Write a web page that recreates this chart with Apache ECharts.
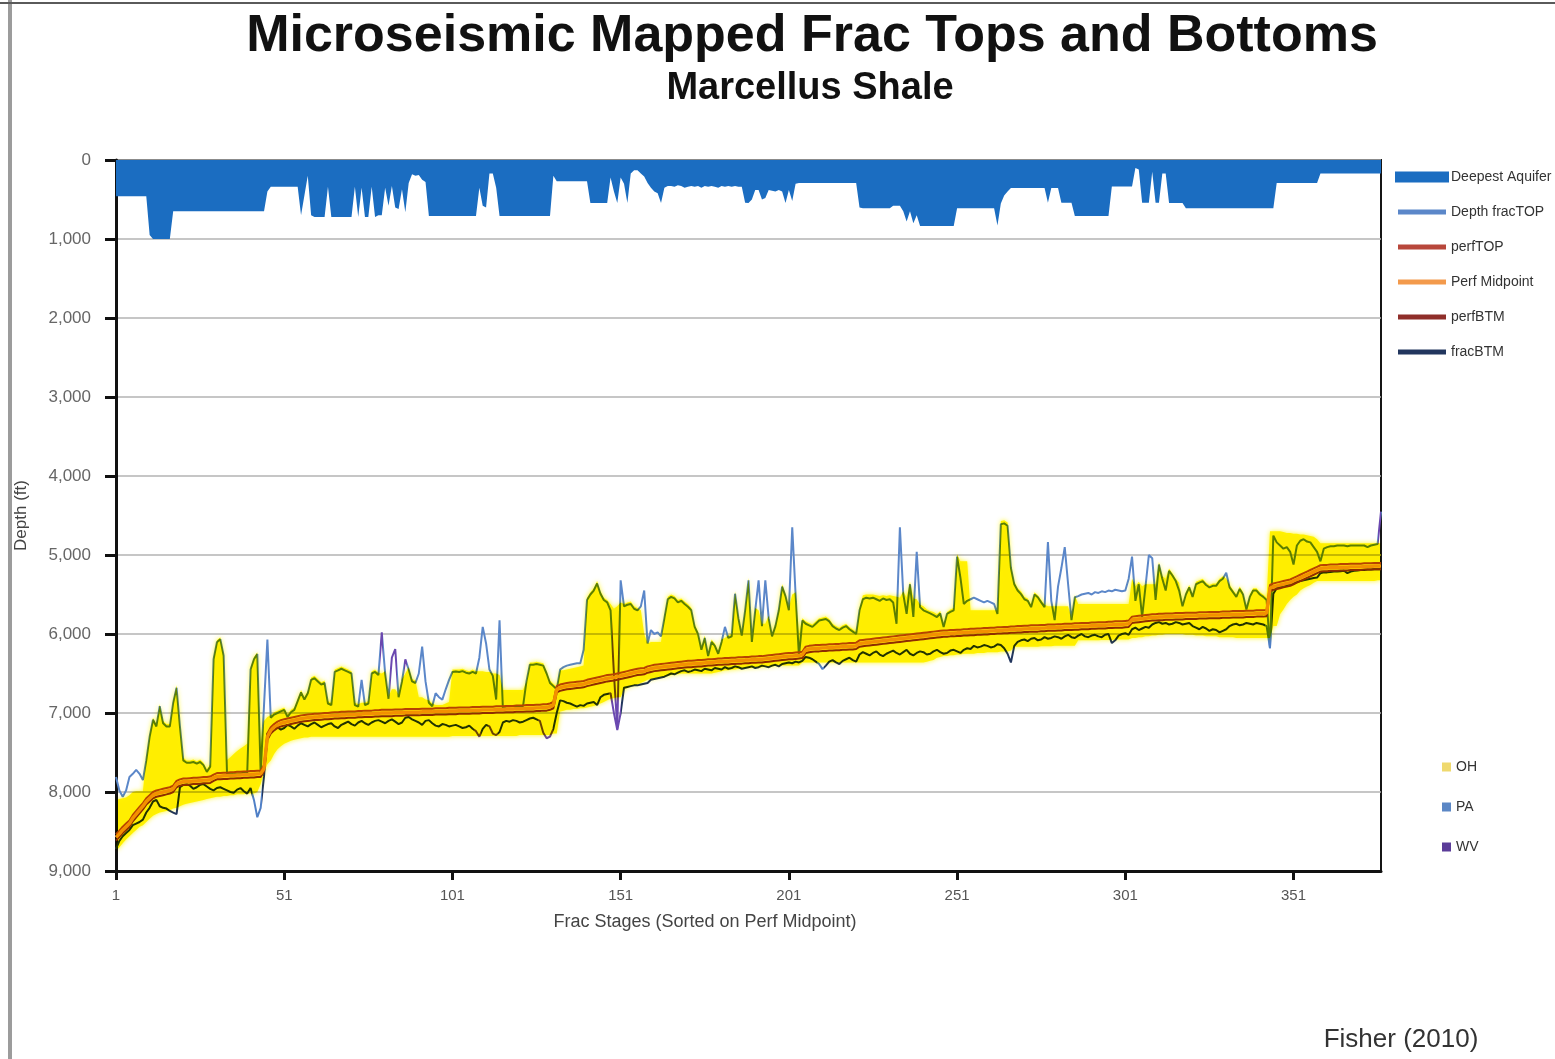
<!DOCTYPE html>
<html>
<head>
<meta charset="utf-8">
<title>Microseismic Mapped Frac Tops and Bottoms</title>
<script src="https://cdn.jsdelivr.net/npm/echarts@6/dist/echarts.min.js"></script>
<style>
  html, body { margin: 0; padding: 0; background: #ffffff; }
  #chart { width: 1555px; height: 1059px; }
</style>
</head>
<body>
<div id="chart"></div>
<script>
// Depth (ft) per frac stage, stages sorted on perf midpoint (377 stages)
const aquifer = [
  460,460,460,460,460,460,460,460,460,460,
  950,1000,1000,1000,1000,1000,1000,650,650,650,
  650,650,650,650,650,650,650,650,650,650,
  650,650,650,650,650,650,650,650,650,650,
  650,650,650,650,650,400,340,340,340,340,
  340,340,340,340,340,700,450,200,700,720,
  720,720,720,340,720,720,720,720,720,720,
  720,340,720,350,720,720,340,720,700,700,
  350,580,330,600,620,370,660,290,180,200,
  190,250,280,710,710,710,710,710,710,710,
  710,710,710,710,710,710,710,710,350,580,
  600,170,170,350,710,710,710,710,710,710,
  710,710,710,710,710,710,710,710,710,710,
  200,270,270,270,270,270,270,270,270,270,
  270,545,545,545,545,545,545,220,400,545,
  220,300,545,170,130,130,170,210,290,350,
  400,420,545,350,330,330,340,320,330,350,
  340,330,340,330,350,330,340,330,340,350,
  330,340,330,340,330,340,340,540,545,500,
  380,380,500,480,380,390,400,380,400,545,
  380,520,300,290,290,290,290,290,290,290,
  290,290,290,290,290,290,290,290,290,290,
  290,600,610,610,610,610,610,610,610,610,
  610,580,580,580,650,780,650,800,700,835,
  835,835,835,835,835,835,835,835,835,835,
  610,610,610,610,610,610,610,610,610,610,
  610,610,830,550,450,400,355,355,355,355,
  355,355,355,355,355,355,355,540,355,355,
  355,540,540,540,540,710,710,710,710,710,
  710,710,710,710,710,710,335,335,335,335,
  335,335,335,100,120,540,540,540,150,540,
  540,170,170,545,545,545,545,545,610,610,
  610,610,610,610,610,610,610,610,610,610,
  610,610,610,610,610,610,610,610,610,610,
  610,610,610,610,610,290,290,290,290,290,
  290,290,290,290,290,290,290,290,170,170,
  170,170,170,170,170,170,170,170,170,170,
  170,170,170,170,170,170,170
];

const fracTop = [
  7810,7980,8060,7980,7810,7770,7720,7770,7850,7600,
  7300,7085,7170,6915,7130,7170,7170,6870,6680,7170,
  7600,7630,7630,7620,7640,7620,7660,7745,7680,6320,
  6105,6065,6275,7765,7765,7775,7765,7765,7755,7765,
  6450,6320,6255,7760,6900,6070,7060,7020,7000,6980,
  6960,7050,6990,6960,6850,6740,6830,6750,6580,6560,
  6600,6640,6620,6880,6900,6480,6460,6440,6460,6480,
  6500,6900,6920,6580,6900,6880,6500,6480,6520,5980,
  6500,6820,6300,6190,6800,6600,6320,6450,6600,6620,
  6500,6160,6600,6870,6915,6750,6800,6830,6700,6580,
  6480,6475,6480,6470,6490,6500,6480,6500,6300,5910,
  6120,6450,6530,6830,5825,6950,6915,6915,6910,6920,
  6915,6910,6600,6390,6390,6380,6390,6400,6500,6620,
  6660,6700,6450,6420,6400,6390,6380,6370,6370,6200,
  5570,5500,5450,5360,5490,5570,5600,5700,6500,7200,
  5320,5650,5630,5620,5680,5700,5650,5450,6120,5950,
  6000,5980,6030,5800,5560,5530,5550,5600,5580,5620,
  5655,5700,5910,6000,6200,6050,6280,6100,6150,6250,
  6100,5910,6050,6030,5490,5800,6020,5700,5320,6100,
  5700,5320,5900,5320,5800,6030,5900,5700,5400,5520,
  5700,4650,5500,6280,5830,5870,5890,5910,5870,5830,
  5820,5810,5840,5900,5930,5950,5920,5900,5940,5970,
  6000,5700,5560,5540,5550,5540,5560,5580,5550,5570,
  5560,5600,5870,4650,5495,5745,5370,5785,4960,5660,
  5700,5720,5740,5760,5785,5740,5910,5745,5720,5700,
  5020,5290,5620,5580,5560,5540,5560,5580,5600,5580,
  5600,5620,5745,4610,4600,4630,5165,5370,5450,5495,
  5560,5580,5660,5500,5535,5600,5660,4835,5580,5825,
  5400,5165,4900,5370,5825,5535,5520,5500,5490,5480,
  5500,5470,5480,5460,5470,5450,5460,5440,5450,5460,
  5450,5300,5020,5580,5370,5785,5400,5000,5040,5570,
  5120,5300,5450,5200,5260,5330,5450,5650,5500,5410,
  5530,5370,5350,5330,5380,5410,5390,5390,5330,5300,
  5225,5410,5470,5530,5430,5500,5690,5530,5450,5450,
  5500,5530,5570,6180,4755,4840,4880,4920,4900,4960,
  5120,4880,4820,4800,4830,4840,4900,4960,5080,4920,
  4900,4890,4890,4880,4880,4880,4890,4880,4880,4880,
  4880,4880,4900,4880,4870,4860,4450
];

const perfTop = [
  8535,8490,8440,8400,8360,8290,8240,8190,8140,8080,
  8040,8000,7980,7970,7960,7950,7940,7920,7860,7840,
  7830,7830,7825,7820,7820,7815,7810,7810,7805,7780,
  7760,7760,7755,7755,7750,7750,7745,7745,7740,7740,
  7735,7735,7730,7730,7660,7260,7180,7140,7110,7090,
  7080,7070,7060,7050,7040,7030,7025,7020,7015,7010,
  7010,7005,7000,7000,6995,6990,6990,6985,6985,6980,
  6980,6980,6975,6975,6970,6970,6970,6965,6965,6960,
  6960,6960,6960,6955,6955,6955,6950,6950,6950,6950,
  6950,6945,6945,6945,6945,6940,6940,6940,6940,6935,
  6935,6935,6930,6930,6930,6930,6925,6925,6925,6920,
  6920,6920,6920,6915,6915,6915,6910,6910,6910,6905,
  6905,6905,6900,6900,6900,6895,6895,6890,6890,6880,
  6860,6660,6640,6630,6620,6615,6610,6605,6600,6595,
  6580,6570,6560,6550,6540,6530,6520,6515,6510,6500,
  6490,6480,6470,6460,6450,6440,6435,6430,6410,6400,
  6390,6385,6380,6375,6370,6365,6360,6355,6350,6345,
  6340,6340,6335,6330,6330,6325,6320,6320,6315,6310,
  6310,6305,6305,6300,6300,6295,6295,6290,6290,6285,
  6285,6280,6280,6275,6270,6265,6260,6255,6250,6245,
  6240,6240,6235,6230,6225,6160,6150,6145,6140,6140,
  6135,6135,6130,6130,6125,6125,6120,6120,6115,6115,
  6110,6080,6075,6070,6065,6060,6055,6050,6045,6040,
  6035,6030,6025,6020,6015,6010,6005,6000,5995,5990,
  5985,5980,5975,5970,5965,5960,5955,5955,5950,5950,
  5945,5945,5940,5940,5935,5935,5930,5930,5925,5925,
  5920,5920,5915,5915,5910,5910,5905,5905,5900,5900,
  5895,5895,5890,5890,5890,5885,5885,5880,5880,5880,
  5875,5875,5870,5870,5870,5865,5865,5860,5860,5860,
  5855,5855,5850,5850,5850,5845,5845,5840,5840,5840,
  5835,5830,5780,5775,5770,5765,5760,5755,5750,5750,
  5745,5745,5740,5740,5740,5735,5735,5735,5730,5730,
  5730,5730,5725,5725,5725,5720,5720,5720,5720,5715,
  5715,5715,5710,5710,5710,5710,5705,5705,5705,5700,
  5700,5700,5695,5380,5360,5350,5340,5330,5320,5310,
  5290,5270,5250,5230,5210,5190,5170,5150,5130,5125,
  5125,5120,5120,5120,5115,5115,5115,5110,5110,5110,
  5110,5105,5105,5105,5100,5100,5100
];

const perfMid = [
  8575,8530,8480,8440,8400,8330,8280,8230,8180,8120,
  8080,8040,8020,8010,8000,7990,7980,7960,7900,7880,
  7870,7870,7865,7860,7860,7855,7850,7850,7845,7820,
  7800,7800,7795,7795,7790,7790,7785,7785,7780,7780,
  7775,7775,7770,7770,7700,7300,7220,7180,7150,7130,
  7120,7110,7100,7090,7080,7070,7065,7060,7055,7050,
  7050,7045,7040,7040,7035,7030,7030,7025,7025,7020,
  7020,7020,7015,7015,7010,7010,7010,7005,7005,7000,
  7000,7000,7000,6995,6995,6995,6990,6990,6990,6990,
  6990,6985,6985,6985,6985,6980,6980,6980,6980,6975,
  6975,6975,6970,6970,6970,6970,6965,6965,6965,6960,
  6960,6960,6960,6955,6955,6955,6950,6950,6950,6945,
  6945,6945,6940,6940,6940,6935,6935,6930,6930,6920,
  6900,6700,6680,6670,6660,6655,6650,6645,6640,6635,
  6620,6610,6600,6590,6580,6570,6560,6555,6550,6540,
  6530,6520,6510,6500,6490,6480,6475,6470,6450,6440,
  6430,6425,6420,6415,6410,6405,6400,6395,6390,6385,
  6380,6380,6375,6370,6370,6365,6360,6360,6355,6350,
  6350,6345,6345,6340,6340,6335,6335,6330,6330,6325,
  6325,6320,6320,6315,6310,6305,6300,6295,6290,6285,
  6280,6280,6275,6270,6265,6200,6190,6185,6180,6180,
  6175,6175,6170,6170,6165,6165,6160,6160,6155,6155,
  6150,6120,6115,6110,6105,6100,6095,6090,6085,6080,
  6075,6070,6065,6060,6055,6050,6045,6040,6035,6030,
  6025,6020,6015,6010,6005,6000,5995,5995,5990,5990,
  5985,5985,5980,5980,5975,5975,5970,5970,5965,5965,
  5960,5960,5955,5955,5950,5950,5945,5945,5940,5940,
  5935,5935,5930,5930,5930,5925,5925,5920,5920,5920,
  5915,5915,5910,5910,5910,5905,5905,5900,5900,5900,
  5895,5895,5890,5890,5890,5885,5885,5880,5880,5880,
  5875,5870,5820,5815,5810,5805,5800,5795,5790,5790,
  5785,5785,5780,5780,5780,5775,5775,5775,5770,5770,
  5770,5770,5765,5765,5765,5760,5760,5760,5760,5755,
  5755,5755,5750,5750,5750,5750,5745,5745,5745,5740,
  5740,5740,5735,5420,5400,5390,5380,5370,5360,5350,
  5330,5310,5290,5270,5250,5230,5210,5190,5170,5165,
  5165,5160,5160,5160,5155,5155,5155,5150,5150,5150,
  5150,5145,5145,5145,5140,5140,5140
];

const perfBtm = [
  8615,8570,8520,8480,8440,8370,8320,8270,8220,8160,
  8120,8080,8060,8050,8040,8030,8020,8000,7940,7920,
  7910,7910,7905,7900,7900,7895,7890,7890,7885,7860,
  7840,7840,7835,7835,7830,7830,7825,7825,7820,7820,
  7815,7815,7810,7810,7740,7340,7260,7220,7190,7170,
  7160,7150,7140,7130,7120,7110,7105,7100,7095,7090,
  7090,7085,7080,7080,7075,7070,7070,7065,7065,7060,
  7060,7060,7055,7055,7050,7050,7050,7045,7045,7040,
  7040,7040,7040,7035,7035,7035,7030,7030,7030,7030,
  7030,7025,7025,7025,7025,7020,7020,7020,7020,7015,
  7015,7015,7010,7010,7010,7010,7005,7005,7005,7000,
  7000,7000,7000,6995,6995,6995,6990,6990,6990,6985,
  6985,6985,6980,6980,6980,6975,6975,6970,6970,6960,
  6940,6740,6720,6710,6700,6695,6690,6685,6680,6675,
  6660,6650,6640,6630,6620,6610,6600,6595,6590,6580,
  6570,6560,6550,6540,6530,6520,6515,6510,6490,6480,
  6470,6465,6460,6455,6450,6445,6440,6435,6430,6425,
  6420,6420,6415,6410,6410,6405,6400,6400,6395,6390,
  6390,6385,6385,6380,6380,6375,6375,6370,6370,6365,
  6365,6360,6360,6355,6350,6345,6340,6335,6330,6325,
  6320,6320,6315,6310,6305,6240,6230,6225,6220,6220,
  6215,6215,6210,6210,6205,6205,6200,6200,6195,6195,
  6190,6160,6155,6150,6145,6140,6135,6130,6125,6120,
  6115,6110,6105,6100,6095,6090,6085,6080,6075,6070,
  6065,6060,6055,6050,6045,6040,6035,6035,6030,6030,
  6025,6025,6020,6020,6015,6015,6010,6010,6005,6005,
  6000,6000,5995,5995,5990,5990,5985,5985,5980,5980,
  5975,5975,5970,5970,5970,5965,5965,5960,5960,5960,
  5955,5955,5950,5950,5950,5945,5945,5940,5940,5940,
  5935,5935,5930,5930,5930,5925,5925,5920,5920,5920,
  5915,5910,5860,5855,5850,5845,5840,5835,5830,5830,
  5825,5825,5820,5820,5820,5815,5815,5815,5810,5810,
  5810,5810,5805,5805,5805,5800,5800,5800,5800,5795,
  5795,5795,5790,5790,5790,5790,5785,5785,5785,5780,
  5780,5780,5775,5460,5440,5430,5420,5410,5400,5390,
  5370,5350,5330,5310,5290,5270,5250,5230,5210,5205,
  5205,5200,5200,5200,5195,5195,5195,5190,5190,5190,
  5190,5185,5185,5185,5180,5180,5180
];

const fracBtm = [
  8720,8620,8560,8520,8480,8420,8400,8380,8350,8260,
  8200,8120,8100,8180,8200,8210,8240,8260,8280,7940,
  7910,7900,7920,7960,7940,7910,7900,7930,7960,7980,
  7950,7940,7960,7980,8000,8010,7970,7950,7990,8020,
  7950,8100,8320,8200,7800,7260,7230,7200,7180,7210,
  7190,7150,7170,7200,7160,7130,7150,7170,7140,7120,
  7150,7180,7160,7140,7130,7170,7190,7150,7130,7110,
  7140,7160,7120,7100,7130,7150,7120,7100,7090,7110,
  7130,7100,7080,7110,7140,7120,7060,7050,7080,7100,
  7120,7150,7100,7090,7130,7160,7170,7140,7150,7170,
  7160,7150,7170,7190,7180,7160,7200,7230,7300,7200,
  7150,7170,7260,7280,7240,7120,7100,7110,7090,7100,
  7120,7110,7090,7070,7060,7080,7100,7250,7320,7300,
  7200,7000,6840,6850,6870,6880,6900,6920,6900,6910,
  6880,6870,6860,6900,6800,6770,6760,6750,7000,7215,
  7000,6680,6670,6660,6650,6650,6640,6630,6620,6580,
  6570,6560,6550,6540,6520,6500,6510,6490,6470,6460,
  6480,6470,6450,6460,6470,6440,6450,6460,6430,6440,
  6450,6420,6440,6430,6410,6420,6440,6430,6420,6410,
  6430,6420,6400,6410,6420,6400,6390,6410,6380,6370,
  6360,6370,6350,6360,6340,6290,6300,6320,6350,6380,
  6445,6400,6350,6330,6360,6380,6340,6320,6300,6330,
  6350,6260,6230,6250,6270,6240,6220,6260,6280,6250,
  6230,6210,6240,6260,6230,6200,6250,6270,6240,6220,
  6230,6260,6250,6220,6200,6230,6250,6240,6210,6200,
  6220,6240,6200,6180,6190,6150,6170,6160,6140,6150,
  6170,6160,6130,6140,6180,6250,6360,6150,6100,6080,
  6070,6090,6060,6050,6080,6070,6040,6060,6050,6030,
  6040,6060,6030,6010,6040,6050,6020,6000,6030,6040,
  6020,6010,6030,6040,6010,6000,6115,6080,6020,6000,
  5990,6010,5940,5920,5950,5930,5910,5920,5880,5860,
  5850,5870,5860,5880,5870,5850,5860,5880,5870,5860,
  5900,5920,5940,5910,5930,5960,5940,5950,5980,5960,
  5940,5900,5880,5870,5890,5880,5860,5870,5880,5860,
  5870,5880,5900,6180,5490,5420,5400,5390,5380,5370,
  5360,5340,5330,5320,5310,5300,5290,5285,5230,5220,
  5220,5215,5210,5210,5205,5200,5230,5210,5200,5195,
  5190,5190,5185,5185,5180,5180,5180
];

// Ohio highlight: shallow and deep edge of the yellow band
const ohTop = [
  8100,8090,8080,8070,8040,8000,7990,7990,7990,7570,
  7270,7060,7140,6890,7100,7140,7140,6840,6650,7140,
  7570,7600,7600,7590,7610,7590,7630,7715,7650,6290,
  6080,6040,6250,7595,7560,7520,7480,7450,7420,7390,
  6420,6290,6230,7400,7100,7050,7030,6990,6970,6950,
  6930,7020,6960,6930,6820,6710,6800,6720,6550,6530,
  6570,6610,6590,6850,6870,6450,6430,6410,6430,6450,
  6470,6870,6890,6870,6870,6850,6470,6450,6490,6500,
  6470,6790,6700,6700,6770,6570,6500,6420,6570,6590,
  6800,6800,6830,6840,6880,6900,6900,6900,6880,6860,
  6450,6450,6450,6440,6460,6470,6450,6470,6470,6470,
  6480,6480,6500,6500,6520,6710,6710,6710,6710,6710,
  6710,6710,6600,6360,6360,6350,6360,6370,6470,6590,
  6630,6670,6460,6460,6450,6440,6430,6420,6410,6400,
  5540,5470,5420,5330,5460,5540,5570,5620,5680,5650,
  5600,5620,5600,5590,5650,5670,5700,6000,6120,6100,
  6100,6100,6100,5770,5530,5500,5520,5570,5550,5590,
  5620,5670,5880,5970,6170,6020,6250,6070,6120,6220,
  6070,6050,6020,6000,5460,5770,5990,5670,5290,6070,
  5670,5700,5870,5870,5770,6000,5870,5670,5370,5490,
  5670,5500,5470,6000,5800,5840,5860,5880,5840,5800,
  5790,5780,5810,5870,5900,5920,5890,5870,5910,5940,
  5970,5670,5510,5500,5500,5500,5510,5520,5510,5520,
  5510,5520,5530,5540,5460,5540,5340,5550,5560,5630,
  5650,5690,5710,5720,5750,5710,5880,5720,5690,5670,
  4990,5080,5080,5080,5700,5700,5700,5700,5700,5700,
  5700,5700,5700,4570,4560,4590,5130,5340,5420,5460,
  5530,5550,5630,5470,5510,5570,5630,5650,5650,5650,
  5650,5650,5650,5650,5800,5510,5620,5620,5620,5620,
  5620,5620,5620,5620,5620,5620,5620,5620,5620,5620,
  5620,5620,5300,5400,5340,5400,5370,5370,5370,5370,
  5090,5270,5300,5170,5230,5300,5350,5620,5470,5380,
  5500,5340,5320,5300,5350,5380,5360,5360,5300,5270,
  5300,5380,5440,5500,5400,5470,5660,5500,5420,5420,
  5470,5500,5540,4700,4700,4700,4700,4710,4720,4720,
  4730,4730,4740,4740,4750,4760,4770,4800,4850,4850,
  4850,4850,4850,4850,4850,4850,4850,4850,4850,4850,
  4850,4850,4850,4850,4850,4850,4850
];

const ohBtm = [
  8750,8700,8650,8600,8560,8520,8480,8440,8420,8380,
  8340,8300,8280,8260,8250,8240,8230,8210,8200,8180,
  8160,8150,8140,8130,8120,8110,8100,8090,8080,8070,
  8060,8060,8050,8050,8040,8040,8030,8030,8030,8020,
  8020,8020,8000,7900,7750,7650,7600,7520,7460,7420,
  7390,7370,7350,7340,7330,7320,7310,7310,7300,7300,
  7300,7300,7300,7300,7300,7300,7300,7300,7300,7300,
  7300,7300,7300,7300,7300,7300,7300,7300,7300,7300,
  7300,7300,7300,7300,7300,7300,7300,7300,7300,7300,
  7300,7300,7300,7300,7300,7300,7300,7300,7300,7300,
  7290,7290,7290,7290,7290,7290,7290,7290,7290,7290,
  7290,7290,7290,7290,7290,7290,7290,7290,7290,7290,
  7280,7280,7280,7280,7280,7280,7280,7280,7280,7280,
  7260,7260,6980,6970,6960,6960,6950,6950,6940,6940,
  6930,6920,6910,6900,6880,6860,6840,6820,6810,6800,
  6800,6700,6680,6660,6650,6640,6620,6600,6580,6570,
  6560,6550,6540,6540,6530,6520,6510,6510,6500,6500,
  6500,6500,6500,6500,6500,6500,6500,6500,6490,6480,
  6470,6460,6460,6450,6450,6440,6440,6430,6430,6430,
  6420,6420,6420,6410,6410,6410,6400,6400,6400,6400,
  6400,6400,6400,6400,6360,6360,6360,6360,6360,6360,
  6360,6360,6360,6360,6360,6360,6360,6360,6360,6360,
  6360,6360,6360,6360,6360,6360,6360,6360,6360,6360,
  6360,6360,6360,6360,6360,6360,6360,6360,6360,6360,
  6360,6350,6340,6330,6300,6290,6280,6280,6270,6270,
  6260,6260,6250,6250,6250,6250,6240,6240,6240,6230,
  6230,6230,6230,6220,6220,6220,6210,6160,6160,6160,
  6160,6160,6160,6160,6160,6155,6155,6155,6155,6150,
  6150,6150,6150,6150,6150,6150,6080,6080,6080,6080,
  6080,6080,6080,6075,6075,6075,6075,6070,6070,6070,
  6070,6070,6050,6050,6040,6040,6030,6030,6020,6020,
  6010,6010,6000,6000,6000,6000,6000,6000,6010,6010,
  6010,6020,6020,6020,6030,6030,6030,6030,6040,6040,
  6040,6040,6040,6050,6050,6050,6050,6050,6050,6050,
  6050,6050,6050,6050,5900,5900,5750,5690,5620,5570,
  5530,5500,5450,5420,5400,5380,5350,5330,5330,5330,
  5330,5330,5330,5330,5330,5330,5330,5330,5330,5330,
  5330,5330,5330,5330,5330,5320,5320
];

// Stage spans (stage numbers) where the frac lines belong to West Virginia / Pennsylvania wells
const wvTopSpans = [[79.5, 80.5], [82.5, 84.5], [86.5, 87.5], [148.5, 150.5], [376, 377]];
const wvBtmSpans = [[107.5, 109.5], [111.5, 114.5], [126.5, 131], [147.5, 151]];
const paBtmSpans = [[41.5, 44.5], [209.5, 211.5], [342.5, 344.5]];

const xTickStages = [1, 51, 101, 151, 201, 251, 301, 351];
const depthTicks = [0, 1000, 2000, 3000, 4000, 5000, 6000, 7000, 8000, 9000];

const N = aquifer.length;
[aquifer, fracTop, perfTop, perfMid, perfBtm, fracBtm, ohTop, ohBtm].forEach(function (a, k) {
  if (a.length !== N) throw new Error('series ' + k + ' has ' + a.length + ' values, expected ' + N);
});

const stages = aquifer.map(function (_, i) { return i + 1; });
function pts(arr) { return arr.map(function (v, i) { return [stages[i], v]; }); }

const FONT = '"Liberation Sans", Arial, sans-serif';
const C = {
  aquifer: '#1b6dc1',
  top: '#5b87c9',
  wv: '#6a48b0',
  pa: '#4f7fc6',
  perfTop: '#b8473b',
  perfMid: '#f39a4c',
  perfBtm: '#8f2e2a',
  btm: '#22365e',
  yellow: 'rgb(255,246,0)',
  ohKey: '#efd96e',
  paKey: '#5b87c5',
  wvKey: '#5b3c99'
};

const chart = echarts.init(document.getElementById('chart'), null, { renderer: 'canvas' });

// Lines coloured by a visualMap leave lineStyle.color unset so the piecewise colours apply
function lineSeries(name, arr, color, z, width, byVisualMap) {
  const lineStyle = { width: width };
  if (!byVisualMap) lineStyle.color = color;
  return {
    name: name, type: 'line', data: pts(arr), showSymbol: false, symbol: 'none',
    lineStyle: lineStyle, itemStyle: { color: color },
    z: z, silent: true
  };
}

// Yellow highlight band: one polygon running along the shallow edge and back along the deep edge
function renderOhBand(params, api) {
  const upper = ohTop.map(function (v, i) { return api.coord([stages[i], v]); });
  const lower = ohBtm.map(function (v, i) { return api.coord([stages[i], v]); }).reverse();
  return {
    type: 'polygon',
    shape: { points: upper.concat(lower) },
    style: { fill: C.yellow, shadowBlur: 5, shadowColor: 'rgba(255,246,0,0.85)' }
  };
}

function spanPieces(spans, color) {
  return spans.map(function (s) { return { gte: s[0], lte: s[1], color: color }; });
}

const option = {
  backgroundColor: '#ffffff',
  animation: false,
  grid: { left: 116, right: 174, top: 160, bottom: 188, show: true, borderColor: '#151515', borderWidth: 2, backgroundColor: 'transparent' },
  xAxis: {
    type: 'value', min: 1, max: 377,
    axisLine: { show: true, onZero: false, lineStyle: { color: '#111', width: 3 } },
    axisTick: { show: true, customValues: xTickStages, length: 9, lineStyle: { color: '#111', width: 3 } },
    axisLabel: { customValues: xTickStages, margin: 17, fontSize: 15, color: '#555', fontFamily: FONT },
    splitLine: { show: false }
  },
  yAxis: {
    type: 'value', inverse: true, min: 0, max: 9000,
    name: 'Depth (ft)', nameLocation: 'middle', nameGap: 86, nameRotate: 90,
    nameTextStyle: { fontSize: 17, color: '#444', fontFamily: FONT },
    axisLine: { show: true, lineStyle: { color: '#111', width: 3 } },
    axisTick: { show: true, customValues: depthTicks, length: 11, lineStyle: { color: '#111', width: 3 } },
    axisLabel: {
      customValues: depthTicks, margin: 25, fontSize: 17, color: '#666', fontFamily: FONT,
      formatter: function (v) { return String(v).replace(/\B(?=(\d{3})+(?!\d))/g, ','); }
    },
    splitLine: { show: true, lineStyle: { color: '#b3b3b3', width: 1.5 } }
  },
  visualMap: [{
    type: 'piecewise', show: false, dimension: 0, seriesIndex: 1,
    pieces: spanPieces(wvTopSpans, C.wv),
    outOfRange: { color: C.top }
  }, {
    type: 'piecewise', show: false, dimension: 0, seriesIndex: 2,
    pieces: spanPieces(wvBtmSpans, C.wv).concat(spanPieces(paBtmSpans, C.pa)),
    outOfRange: { color: C.btm }
  }],
  legend: [{
    orient: 'vertical', left: 1390, top: 163, itemWidth: 48, itemHeight: 5, itemGap: 17,
    icon: 'rect', selectedMode: false,
    textStyle: { fontSize: 14, color: '#333', fontFamily: FONT, lineHeight: 18 },
    data: [
      { name: 'Deepest Aquifer', itemStyle: { color: C.aquifer, borderColor: C.aquifer, borderWidth: 6 } },
      { name: 'Depth fracTOP', itemStyle: { color: C.top, borderWidth: 0 } },
      { name: 'perfTOP', itemStyle: { color: C.perfTop, borderWidth: 0 } },
      { name: 'Perf Midpoint', itemStyle: { color: C.perfMid, borderWidth: 0 } },
      { name: 'perfBTM', itemStyle: { color: C.perfBtm, borderWidth: 0 } },
      { name: 'fracBTM', itemStyle: { color: C.btm, borderWidth: 0 } }
    ]
  }, {
    orient: 'vertical', left: 1437, top: 753, itemWidth: 9, itemHeight: 9, itemGap: 22,
    icon: 'rect', selectedMode: false,
    textStyle: { fontSize: 14, color: '#333', fontFamily: FONT, lineHeight: 18 },
    data: [
      { name: 'OH', itemStyle: { color: C.ohKey, borderWidth: 0 } },
      { name: 'PA', itemStyle: { color: C.paKey, borderWidth: 0 } },
      { name: 'WV', itemStyle: { color: C.wvKey, borderWidth: 0 } }
    ]
  }],
  series: [
    {
      name: 'Deepest Aquifer', type: 'line', data: pts(aquifer), showSymbol: false, symbol: 'none',
      lineStyle: { width: 0, color: C.aquifer }, itemStyle: { color: C.aquifer },
      areaStyle: { color: C.aquifer, opacity: 1, origin: 'start' }, z: 1, silent: true
    },
    lineSeries('Depth fracTOP', fracTop, C.top, 2, 2, true),
    lineSeries('fracBTM', fracBtm, C.btm, 2, 2, true),
    lineSeries('perfTOP', perfTop, C.perfTop, 3, 2, false),
    lineSeries('perfBTM', perfBtm, C.perfBtm, 3, 2, false),
    lineSeries('Perf Midpoint', perfMid, C.perfMid, 3, 3.4, false),
    {
      name: 'OH', type: 'custom', data: [[1, 0]], renderItem: renderOhBand, clip: true,
      itemStyle: { color: C.ohKey }, blendMode: 'multiply', z: 5, silent: true
    },
    { name: 'PA', type: 'line', data: [], itemStyle: { color: C.paKey } },
    { name: 'WV', type: 'line', data: [], itemStyle: { color: C.wvKey } }
  ],
  graphic: [
    { type: 'rect', left: 8, top: 0, shape: { width: 4, height: 1059 }, style: { fill: '#9c9c9c' }, silent: true },
    { type: 'rect', left: 0, top: 2, shape: { width: 1555, height: 2 }, style: { fill: '#5a5a5a' }, silent: true },
    {
      type: 'text', x: 812, y: 37, silent: true,
      style: { text: 'Microseismic Mapped Frac Tops and Bottoms', font: 'bold 52px ' + FONT, fill: '#111', align: 'center', verticalAlign: 'middle' }
    },
    {
      type: 'text', x: 810, y: 89, silent: true,
      style: { text: 'Marcellus Shale', font: 'bold 38px ' + FONT, fill: '#111', align: 'center', verticalAlign: 'middle' }
    },
    {
      type: 'text', x: 705, y: 922, silent: true,
      style: { text: 'Frac Stages (Sorted on Perf Midpoint)', font: '18px ' + FONT, fill: '#444', align: 'center', verticalAlign: 'middle' }
    },
    {
      type: 'text', x: 1401, y: 1040, silent: true,
      style: { text: 'Fisher (2010)', font: '26px ' + FONT, fill: '#333', align: 'center', verticalAlign: 'middle' }
    }
  ]
};

chart.setOption(option);
</script>
</body>
</html>
